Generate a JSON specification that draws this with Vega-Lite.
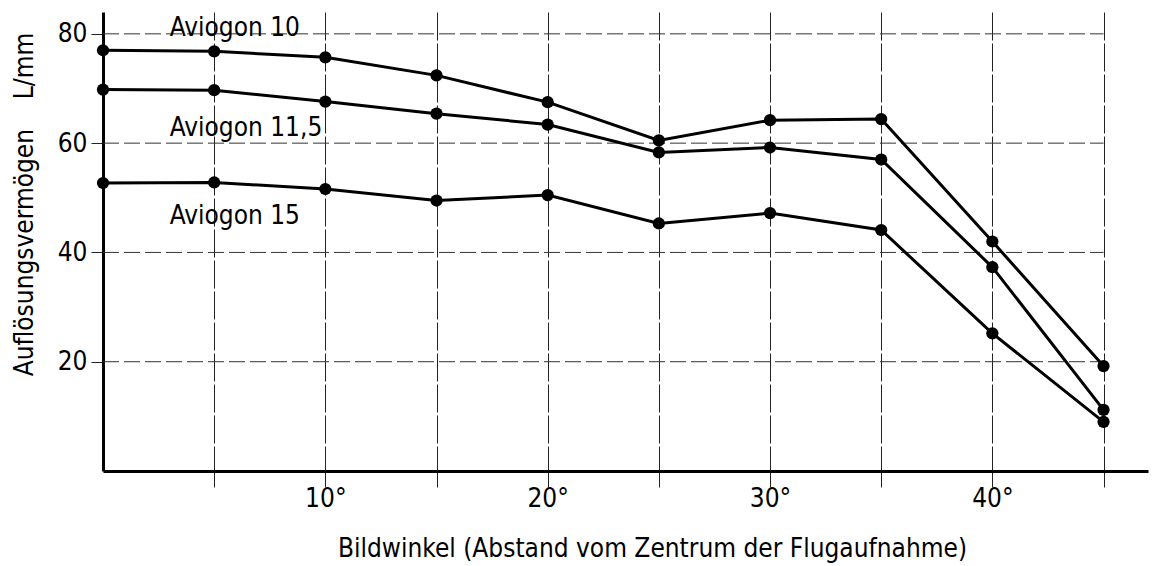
{
  "$schema": "https://vega.github.io/schema/vega-lite/v6.json",
  "autosize": "none",
  "width": 1045,
  "height": 459,
  "padding": {"left": 103, "top": 12, "right": 4, "bottom": 95},
  "background": "white",
  "config": {
    "view": {"stroke": null},
    "font": "DejaVu Sans Condensed",
    "axis": {"labelFont": "DejaVu Sans Condensed", "titleFont": "DejaVu Sans Condensed", "labelColor": "black", "titleColor": "black", "labelFontWeight": "normal", "titleFontWeight": "normal"}
  },
  "datasets": {
    "series": [
      {"winkel": 0, "wert": 77.0, "objektiv": "Aviogon 10"},
      {"winkel": 5, "wert": 76.8, "objektiv": "Aviogon 10"},
      {"winkel": 10, "wert": 75.7, "objektiv": "Aviogon 10"},
      {"winkel": 15, "wert": 72.4, "objektiv": "Aviogon 10"},
      {"winkel": 20, "wert": 67.5, "objektiv": "Aviogon 10"},
      {"winkel": 25, "wert": 60.5, "objektiv": "Aviogon 10"},
      {"winkel": 30, "wert": 64.2, "objektiv": "Aviogon 10"},
      {"winkel": 35, "wert": 64.4, "objektiv": "Aviogon 10"},
      {"winkel": 40, "wert": 42.0, "objektiv": "Aviogon 10"},
      {"winkel": 45, "wert": 19.2, "objektiv": "Aviogon 10"},
      {"winkel": 0, "wert": 69.8, "objektiv": "Aviogon 11,5"},
      {"winkel": 5, "wert": 69.7, "objektiv": "Aviogon 11,5"},
      {"winkel": 10, "wert": 67.6, "objektiv": "Aviogon 11,5"},
      {"winkel": 15, "wert": 65.4, "objektiv": "Aviogon 11,5"},
      {"winkel": 20, "wert": 63.4, "objektiv": "Aviogon 11,5"},
      {"winkel": 25, "wert": 58.3, "objektiv": "Aviogon 11,5"},
      {"winkel": 30, "wert": 59.2, "objektiv": "Aviogon 11,5"},
      {"winkel": 35, "wert": 57.0, "objektiv": "Aviogon 11,5"},
      {"winkel": 40, "wert": 37.3, "objektiv": "Aviogon 11,5"},
      {"winkel": 45, "wert": 11.2, "objektiv": "Aviogon 11,5"},
      {"winkel": 0, "wert": 52.7, "objektiv": "Aviogon 15"},
      {"winkel": 5, "wert": 52.8, "objektiv": "Aviogon 15"},
      {"winkel": 10, "wert": 51.6, "objektiv": "Aviogon 15"},
      {"winkel": 15, "wert": 49.5, "objektiv": "Aviogon 15"},
      {"winkel": 20, "wert": 50.5, "objektiv": "Aviogon 15"},
      {"winkel": 25, "wert": 45.3, "objektiv": "Aviogon 15"},
      {"winkel": 30, "wert": 47.2, "objektiv": "Aviogon 15"},
      {"winkel": 35, "wert": 44.1, "objektiv": "Aviogon 15"},
      {"winkel": 40, "wert": 25.2, "objektiv": "Aviogon 15"},
      {"winkel": 45, "wert": 9.0, "objektiv": "Aviogon 15"}
    ],
    "labels": [
      {"winkel": 3.0, "wert": 81.0, "text": "Aviogon 10"},
      {"winkel": 3.0, "wert": 62.7, "text": "Aviogon 11,5"},
      {"winkel": 3.0, "wert": 46.6, "text": "Aviogon 15"}
    ],
    "hgrid": [{"wert": 20}, {"wert": 40}, {"wert": 60}, {"wert": 80}]
  },
  "layer": [
    {
      "data": {"name": "hgrid"},
      "mark": {"type": "rule", "color": "#333", "strokeWidth": 1, "strokeDash": [16, 5]},
      "encoding": {
        "y": {"field": "wert", "type": "quantitative", "scale": {"domain": [0, 84], "nice": false}},
        "x": {"datum": 0, "type": "quantitative"},
        "x2": {"datum": 45}
      }
    },
    {
      "data": {"name": "series"},
      "mark": {"type": "line", "color": "black", "strokeWidth": 3},
      "encoding": {
        "x": {
          "field": "winkel", "type": "quantitative",
          "scale": {"domain": [0, 47], "nice": false},
          "axis": {
            "values": [5, 10, 15, 20, 25, 30, 35, 40, 45],
            "labelExpr": "datum.value % 10 == 0 && datum.value < 45 ? datum.value + '°' : ''",
            "grid": true, "gridColor": "#222", "gridWidth": 1, "gridDash": [28, 3],
            "domainColor": "black", "domainWidth": 3,
            "tickColor": "#222", "tickWidth": 1, "tickSize": 16,
            "labelFontSize": 26, "labelPadding": -2,
            "title": "Bildwinkel (Abstand vom Zentrum der Flugaufnahme)",
            "titleFontSize": 26, "titlePadding": 24, "titleX": 549
          }
        },
        "y": {
          "field": "wert", "type": "quantitative",
          "scale": {"domain": [0, 84], "nice": false},
          "axis": {
            "values": [20, 40, 60, 80],
            "grid": false,
            "domainColor": "black", "domainWidth": 3,
            "tickColor": "#222", "tickWidth": 1, "tickSize": 12,
            "labelFontSize": 26, "labelPadding": 4,
            "title": "Auflösungsvermögen\u00a0\u00a0\u00a0\u00a0L/mm",
            "titleFontSize": 26, "titleX": -66, "titleY": 192, "titleAnchor": null
          }
        },
        "detail": {"field": "objektiv"}
      }
    },
    {
      "data": {"name": "series"},
      "mark": {"type": "point", "filled": true, "color": "black", "opacity": 1, "size": 150},
      "encoding": {
        "x": {"field": "winkel", "type": "quantitative"},
        "y": {"field": "wert", "type": "quantitative"}
      }
    },
    {
      "data": {"name": "labels"},
      "mark": {"type": "text", "align": "left", "baseline": "middle", "fontSize": 26, "fontWeight": "normal", "color": "black", "font": "DejaVu Sans Condensed"},
      "encoding": {
        "x": {"field": "winkel", "type": "quantitative"},
        "y": {"field": "wert", "type": "quantitative"},
        "text": {"field": "text"}
      }
    }
  ]
}
